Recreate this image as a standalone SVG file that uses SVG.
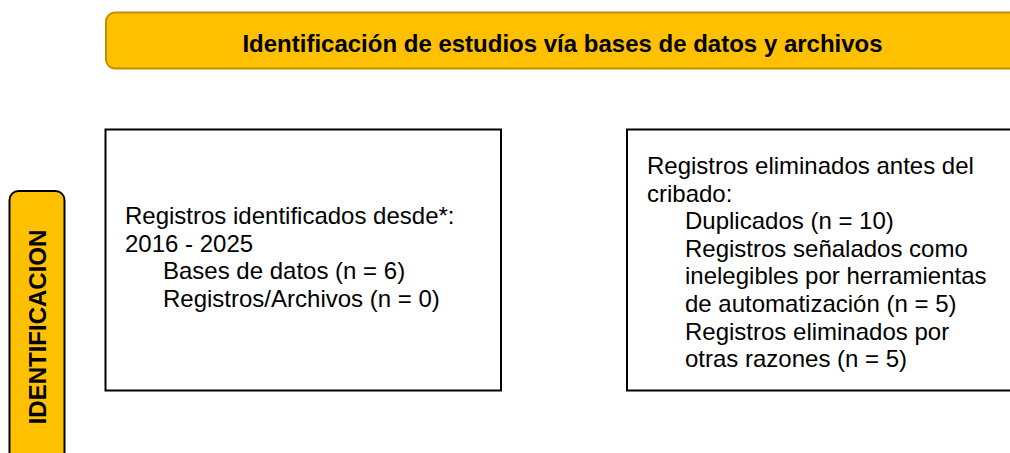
<svg xmlns="http://www.w3.org/2000/svg" width="1010" height="453" viewBox="0 0 1010 453">
  <style>
    .hdr { fill: #FFC000; stroke: #BF9000; stroke-width: 2; }
    .side { fill: #FFC000; stroke: #000000; stroke-width: 2; }
    .box { fill: #FFFFFF; stroke: #000000; stroke-width: 2; }
    .t { font-family: "Liberation Sans", Arial, sans-serif; font-size: 24px; fill: #000000; }
    .b { font-family: "Liberation Sans", Arial, sans-serif; font-size: 24px; font-weight: bold; fill: #000000; }
  </style>
  <rect x="0" y="0" width="1010" height="453" fill="#FFFFFF"/>
  <g id="header">
    <rect class="hdr" x="106" y="12.5" width="930" height="56" rx="9" ry="9"/>
    <text class="b" x="562.5" y="52" text-anchor="middle">Identificación de estudios vía bases de datos y archivos</text>
  </g>
  <g id="stage-identificacion">
    <rect class="side" x="9.5" y="191" width="55" height="290" rx="9" ry="9"/>
    <text class="b" transform="translate(45.5 327) rotate(-90)" x="0" y="0" text-anchor="middle">IDENTIFICACION</text>
  </g>
  <g id="records-identified">
    <rect class="box" x="105.5" y="129.5" width="395.5" height="261"/>
    <text class="t">
      <tspan x="125" y="224">Registros identificados desde*:</tspan>
      <tspan x="125" y="251.6">2016 - 2025</tspan>
      <tspan x="163" y="279.2">Bases de datos (n = 6)</tspan>
      <tspan x="163" y="306.8">Registros/Archivos (n = 0)</tspan>
    </text>
  </g>
  <g id="records-removed">
    <rect class="box" x="627" y="129.5" width="400" height="261"/>
    <text class="t">
      <tspan x="647" y="174">Registros eliminados antes del</tspan>
      <tspan x="647" y="201.6">cribado:</tspan>
      <tspan x="685" y="229.2">Duplicados (n = 10)</tspan>
      <tspan x="685" y="256.8">Registros señalados como</tspan>
      <tspan x="685" y="284.4">inelegibles por herramientas</tspan>
      <tspan x="685" y="312">de automatización (n = 5)</tspan>
      <tspan x="685" y="339.6">Registros eliminados por</tspan>
      <tspan x="685" y="367.2">otras razones (n = 5)</tspan>
    </text>
  </g>
  <g id="connectors"/>
</svg>
